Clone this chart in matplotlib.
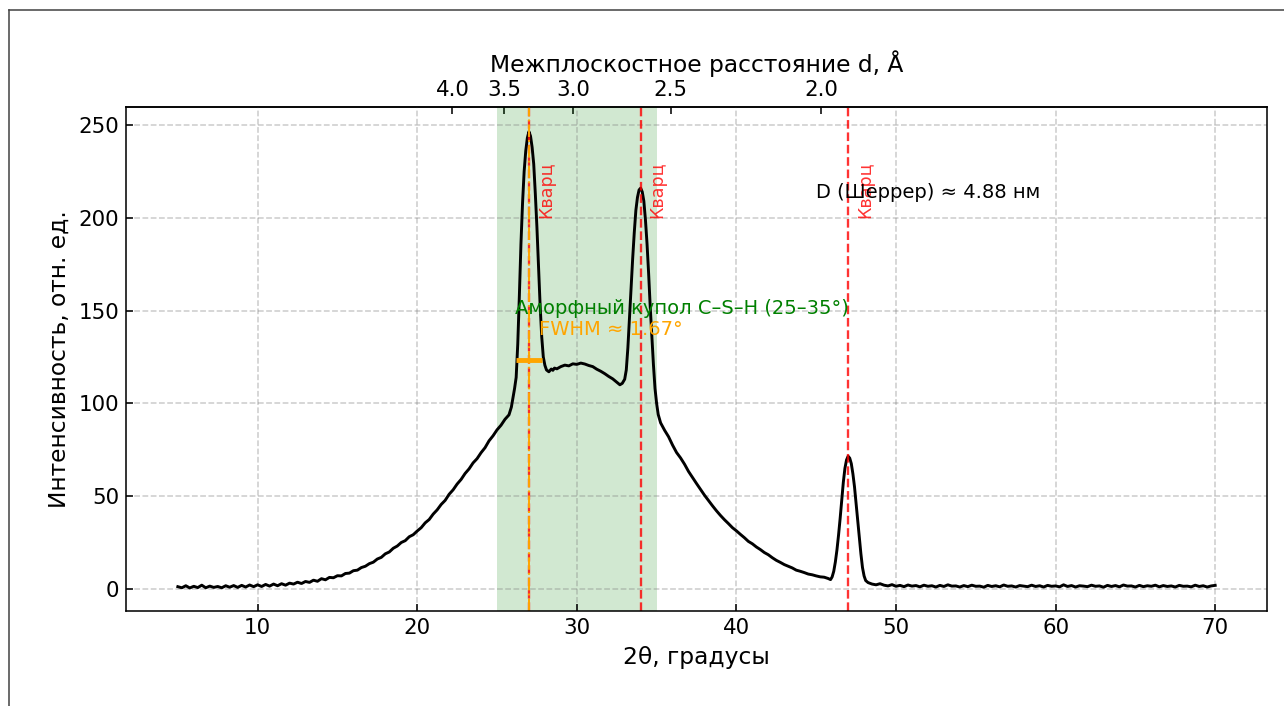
"""XRD-дифрактограмма: аморфный купол C–S–H и пики кварца (Cu Kα)."""
import matplotlib

matplotlib.use("Agg")

import matplotlib.pyplot as plt
import numpy as np
from matplotlib.lines import Line2D

WAVELENGTH = 1.5406  # Cu Kα, Å

# скан 2θ / интенсивность, по участкам
tt_rise = [
    5.0, 5.25, 5.5, 5.75, 6.0, 6.25, 6.5, 6.75, 7.0, 7.25,
    7.5, 7.75, 8.0, 8.25, 8.5, 8.75, 9.0, 9.25, 9.5, 9.75,
    10.0, 10.25, 10.5, 10.75, 11.0, 11.25, 11.5, 11.75, 12.0, 12.25,
    12.5, 12.75, 13.0, 13.25, 13.5, 13.75, 14.0, 14.25, 14.5, 14.75,
    15.0, 15.25, 15.5, 15.75, 16.0, 16.25, 16.5, 16.75, 17.0, 17.25,
    17.5, 17.75, 18.0, 18.25, 18.5, 18.75, 19.0, 19.25, 19.5, 19.75,
    20.0, 20.25, 20.5, 20.75, 21.0, 21.25, 21.5, 21.75, 22.0, 22.25,
    22.5, 22.75, 23.0, 23.25, 23.5, 23.75, 24.0, 24.25, 24.5, 24.75,
    25.0, 25.25, 25.5, 25.75,
]
int_rise = [
    1.2, 0.6, 1.7, 0.5, 1.4, 0.7, 2.0, 0.6, 1.5, 0.8,
    1.3, 0.6, 1.7, 0.9, 1.8, 0.8, 1.9, 1.0, 2.1, 1.2,
    2.2, 1.3, 2.4, 1.5, 2.6, 1.7, 2.8, 2.0, 3.1, 2.6,
    3.6, 2.9, 4.0, 3.5, 4.7, 4.1, 5.5, 4.9, 6.2, 6.0,
    7.1, 7.0, 8.3, 8.5, 9.8, 10.1, 11.5, 12.2, 13.6, 14.4,
    16.1, 17.0, 18.9, 19.9, 21.9, 23.1, 25.0, 26.0, 28.1, 29.2,
    31.2, 33.0, 35.6, 37.4, 40.3, 42.6, 45.5, 47.7, 51.0, 53.4,
    56.5, 59.0, 62.2, 64.7, 67.9, 70.2, 73.4, 76.1, 79.8, 82.5,
    85.7, 88.2, 91.4, 93.8,
]
tt_peak1 = [
    25.9, 26.0, 26.1, 26.2, 26.3, 26.4, 26.5, 26.6, 26.7, 26.8,
    26.9, 27.0, 27.1, 27.2, 27.3, 27.4, 27.5, 27.6, 27.7, 27.8,
    27.9, 28.0, 28.1,
]
int_peak1 = [
    98, 103, 108, 114, 132, 158, 186, 208, 225, 236,
    243, 246.5, 244, 238, 229, 213, 195, 174, 153, 136,
    125, 120.5, 118,
]
tt_hump = [
    28.25, 28.4, 28.5, 28.6, 28.75, 29.0, 29.25, 29.5, 29.75, 30.0,
    30.25, 30.5, 30.75, 31.0, 31.25, 31.5, 31.75, 32.0, 32.25, 32.5,
    32.7, 32.85,
]
int_hump = [
    117, 118.5, 117.8, 119, 118.6, 119.8, 120.6, 120.2, 121.3, 121.0,
    121.7, 121.2, 120.4, 119.8, 118.4, 117.3, 116.0, 114.5, 113.2, 111.4,
    110.0, 110.8,
]
tt_peak2 = [
    33.0, 33.1, 33.2, 33.3, 33.4, 33.5, 33.6, 33.7, 33.8, 33.9,
    34.0, 34.1, 34.2, 34.3, 34.4, 34.5, 34.6, 34.7, 34.8, 34.9,
    35.0, 35.1,
]
int_peak2 = [
    113, 118, 130, 146, 163, 178, 192, 204, 211, 215,
    216, 214, 209, 199, 186, 170, 152, 136, 121, 108,
    100, 94,
]
tt_tail = [
    35.25, 35.5, 35.75, 36.0, 36.25, 36.5, 36.75, 37.0, 37.25, 37.5,
    37.75, 38.0, 38.25, 38.5, 38.75, 39.0, 39.25, 39.5, 39.75, 40.0,
    40.25, 40.5, 40.75, 41.0, 41.25, 41.5, 41.75, 42.0, 42.25, 42.5,
    42.75, 43.0, 43.25, 43.5, 43.75, 44.0, 44.25, 44.5, 44.75, 45.0,
    45.25, 45.5, 45.75,
]
int_tail = [
    89.5, 85.5, 82.0, 77.5, 73.5, 70.6, 67.2, 63.3, 60.0, 56.8,
    53.6, 50.5, 47.6, 44.8, 42.1, 39.6, 37.3, 35.2, 33.0, 31.3,
    29.4, 27.6, 25.6, 24.3, 22.6, 21.2, 19.6, 18.4, 16.8, 15.4,
    14.3, 13.1, 12.2, 11.3, 10.1, 9.5, 8.8, 8.0, 7.6, 7.0,
    6.5, 6.3, 5.6,
]
tt_peak3 = [
    45.9, 46.0, 46.1, 46.2, 46.3, 46.4, 46.5, 46.6, 46.7, 46.8,
    46.9, 47.0, 47.1, 47.2, 47.3, 47.4, 47.5, 47.6, 47.7, 47.8,
    47.9, 48.0, 48.1,
]
int_peak3 = [
    5.0, 6.5, 9.5, 14.5, 21, 29, 38, 48, 57.5, 65,
    69.5, 71.5, 70.5, 67.5, 62, 55, 46, 37.5, 28, 19,
    11.5, 7, 4.5,
]
tt_flat = [
    48.25, 48.5, 48.75, 49.0, 49.25, 49.5, 49.75, 50.0, 50.25, 50.5,
    50.75, 51.0, 51.25, 51.5, 51.75, 52.0, 52.25, 52.5, 52.75, 53.0,
    53.25, 53.5, 53.75, 54.0, 54.25, 54.5, 54.75, 55.0, 55.25, 55.5,
    55.75, 56.0, 56.25, 56.5, 56.75, 57.0, 57.25, 57.5, 57.75, 58.0,
    58.25, 58.5, 58.75, 59.0, 59.25, 59.5, 59.75, 60.0, 60.25, 60.5,
    60.75, 61.0, 61.25, 61.5, 61.75, 62.0, 62.25, 62.5, 62.75, 63.0,
    63.25, 63.5, 63.75, 64.0, 64.25, 64.5, 64.75, 65.0, 65.25, 65.5,
    65.75, 66.0, 66.25, 66.5, 66.75, 67.0, 67.25, 67.5, 67.75, 68.0,
    68.25, 68.5, 68.75, 69.0, 69.25, 69.5, 69.75, 70.0,
]
int_flat = [
    3.4, 2.6, 2.2, 2.8, 2.0, 1.6, 2.3, 1.4, 1.9, 1.2,
    2.1, 1.5, 1.8, 1.1, 2.0, 1.4, 1.7, 1.0, 1.9, 1.3,
    2.2, 1.5, 1.6, 1.0, 1.8, 1.2, 2.0, 1.4, 1.5, 0.9,
    1.9, 1.3, 1.7, 1.1, 2.1, 1.4, 1.6, 1.0, 1.8, 1.5,
    1.2, 2.0, 1.3, 1.7, 1.0, 1.9, 1.4, 1.6, 1.1, 2.2,
    1.3, 1.8, 1.0, 1.7, 1.5, 1.2, 2.0, 1.4, 1.6, 0.9,
    1.9, 1.3, 1.8, 1.1, 2.1, 1.5, 1.6, 1.0, 1.9, 1.2,
    1.7, 1.4, 2.0, 1.1, 1.8, 1.3, 1.6, 1.0, 1.9, 1.4,
    1.5, 1.1, 2.0, 1.3, 1.7, 1.0, 1.6, 1.9,
]

QUARTZ_LINES = [27.0, 34.0, 47.0]
AMORPHOUS_RANGE = [25.0, 35.0]
D_TICKS = [4.0, 3.5, 3.0, 2.5, 2.0]
FWHM_CENTER = 27.0
FWHM_DEG = 1.67
FWHM_LEVEL = 123.25
SCHERRER_NM = 4.88


def tth_to_d(tth):
    theta = np.radians(np.asarray(tth, dtype=float) / 2)
    with np.errstate(divide="ignore", invalid="ignore"):
        return WAVELENGTH / (2 * np.sin(theta))


def d_to_tth(d):
    d = np.asarray(d, dtype=float)
    with np.errstate(divide="ignore", invalid="ignore"):
        return 2 * np.degrees(np.arcsin(np.clip(WAVELENGTH / (2 * d), -1, 1)))


def main():
    tt = tt_rise + tt_peak1 + tt_hump + tt_peak2 + tt_tail + tt_peak3 + tt_flat
    inten = int_rise + int_peak1 + int_hump + int_peak2 + int_tail + int_peak3 + int_flat
    assert len(tt) == len(inten)

    fig = plt.figure(figsize=(1284 / 140, 706 / 140), dpi=140)
    ax = fig.add_axes([0.0981, 0.1346, 0.8887, 0.7138])

    ax.axvspan(*AMORPHOUS_RANGE, color="green", alpha=0.18, lw=0)
    ax.plot(tt, inten, color="black", lw=1.5)

    for pos in QUARTZ_LINES:
        ax.axvline(pos, color="red", ls="--", lw=1.2, alpha=0.8)
        ax.text(pos + 0.5, 200, "Кварц", rotation=90, color="red", alpha=0.8,
                fontsize=9, ha="left", va="bottom")

    ax.axvline(FWHM_CENTER, color="orange", ls="-.", lw=1.0)
    ax.hlines(FWHM_LEVEL, FWHM_CENTER - FWHM_DEG / 2, FWHM_CENTER + FWHM_DEG / 2,
              color="orange", lw=2.5)
    ax.text(FWHM_CENTER + 0.6, 140, f"FWHM ≈ {FWHM_DEG:.2f}°", color="orange",
            fontsize=10, ha="left", va="center")
    ax.text(26.1, 151, "Аморфный купол C–S–H (25–35°)", color="green",
            fontsize=10, ha="left", va="center")
    ax.text(45.0, 210.5, f"D (Шеррер) ≈ {SCHERRER_NM:.2f} нм", color="black",
            fontsize=10, ha="left", va="baseline")

    ax.set_xlim(1.75, 73.25)
    ax.set_ylim(-11.9, 259.7)
    ax.set_xlabel("2θ, градусы", fontsize=12)
    ax.set_ylabel("Интенсивность, отн. ед.", fontsize=12)
    ax.tick_params(direction="in", labelsize=11)
    ax.grid(True, ls="--", color="gray", alpha=0.4, lw=0.8)

    sec = ax.secondary_xaxis("top", functions=(tth_to_d, d_to_tth))
    sec.set_xticks(D_TICKS)
    sec.set_xticklabels([f"{d:.1f}" for d in D_TICKS])
    sec.tick_params(direction="in", labelsize=11)
    sec.set_xlabel("Межплоскостное расстояние d, Å", fontsize=12)

    # рамка скриншота слева и сверху
    fig.add_artist(Line2D([0.0070, 0.0070], [0.0, 0.9858], transform=fig.transFigure,
                          color="#444444", lw=0.8))
    fig.add_artist(Line2D([0.0070, 1.0], [0.9858, 0.9858], transform=fig.transFigure,
                          color="#444444", lw=0.8))

    fig.savefig("out.png", dpi=140, facecolor="white")
    plt.close(fig)


if __name__ == "__main__":
    main()
